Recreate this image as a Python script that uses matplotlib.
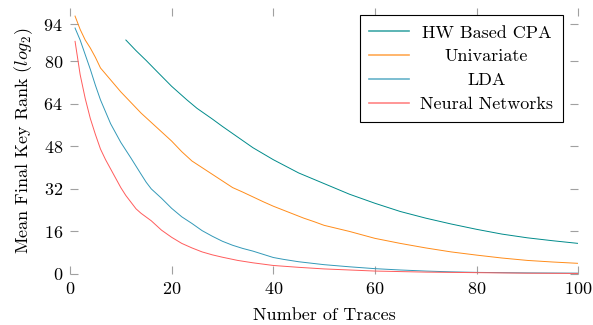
"""Mean final key rank vs number of traces."""

import matplotlib
import matplotlib.pyplot as plt

matplotlib.use("Agg")

plt.rcParams["font.family"] = ["cmr10", "DejaVu Serif"]
plt.rcParams["mathtext.fontset"] = "cm"
plt.rcParams["axes.unicode_minus"] = False
plt.rcParams["axes.formatter.use_mathtext"] = True

# Data
cpa_x = [11, 13, 15, 17, 20, 23, 25, 28, 30, 33, 36, 40, 45, 50, 55, 60, 65, 70, 75, 80, 85, 90, 95, 100]
cpa_y = [88.0, 84.0, 80.3, 76.4, 70.6, 65.5, 62.3, 58.3, 55.5, 51.5, 47.5, 43.0, 38.0, 34.0,
         30.0, 26.6, 23.5, 21.0, 18.8, 16.8, 15.0, 13.6, 12.5, 11.5]

uni_x = [1, 2, 3, 4, 5, 6, 8, 10, 12, 14, 16, 18, 20, 22, 24, 26, 28, 30, 32, 34, 36, 38, 40,
         42, 44, 46, 48, 50, 55, 60, 65, 70, 75, 80, 85, 90, 95, 100]
uni_y = [97.0, 92.0, 88.0, 85.0, 81.5, 77.5, 73.0, 68.5, 64.5, 60.5, 57.0, 53.5, 50.0, 46.0,
         42.5, 40.0, 37.5, 35.0, 32.5, 30.8, 29.0, 27.2, 25.5, 24.0, 22.5, 21.0, 19.7, 18.3,
         16.0, 13.4, 11.5, 9.8, 8.3, 7.1, 6.0, 5.1, 4.5, 4.0]

lda_x = [1, 2, 3, 4, 5, 6, 8, 10, 12, 14, 15, 16, 18, 20, 22, 24, 26, 28, 30, 32, 34, 36, 38,
         40, 42, 45, 50, 55, 60, 65, 70, 75, 80, 90, 100]
lda_y = [92.5, 88.0, 82.5, 77.0, 71.0, 65.5, 56.5, 49.5, 43.6, 37.5, 34.5, 32.0, 28.5, 24.7,
         21.5, 19.0, 16.3, 14.2, 12.3, 10.8, 9.6, 8.6, 7.4, 6.2, 5.5, 4.6, 3.5, 2.7, 2.0, 1.5,
         1.1, 0.8, 0.6, 0.4, 0.3]

nn_x = [1, 2, 3, 4, 5, 6, 7, 8, 9, 10, 11, 12, 13, 14, 16, 18, 20, 22, 24, 26, 28, 30, 33, 36,
        40, 45, 50, 55, 60, 70, 80, 90, 100]
nn_y = [87.5, 75.0, 66.0, 58.5, 52.5, 47.0, 43.0, 39.5, 36.0, 32.5, 29.5, 27.0, 24.5, 22.8,
        20.0, 16.5, 13.8, 11.5, 9.8, 8.3, 7.2, 6.3, 5.1, 4.2, 3.2, 2.5, 1.9, 1.5, 1.1, 0.7,
        0.5, 0.3, 0.2]

x_ticks = [0, 20, 40, 60, 80, 100]
y_ticks = [0, 16, 32, 48, 64, 80, 94]

fig = plt.figure(figsize=(5.93, 3.25), dpi=100)
ax = fig.add_axes([0.118, 0.157, 0.857, 0.818])

ax.plot(cpa_x, cpa_y, color="#008b8b", lw=0.7, label="HW Based CPA")
ax.plot(uni_x, uni_y, color="#ff8c1a", lw=0.7, label="Univariate")
ax.plot(lda_x, lda_y, color="#3399b8", lw=0.7, label="LDA")
ax.plot(nn_x, nn_y, color="#ff5c5c", lw=0.7, label="Neural Networks")

ax.set_xlim(0, 100)
ax.set_ylim(0, 100)
ax.set_xticks(x_ticks)
ax.set_yticks(y_ticks)
for s in ax.spines.values():
    s.set_visible(False)
ax.tick_params(direction="in", length=6, width=0.8, color="#a0a0a0",
               top=True, right=True, labelsize=13, pad=5)

ax.set_xlabel("Number of Traces", fontsize=13, labelpad=8)
ax.set_ylabel("Mean Final Key Rank ($log_2$)", fontsize=13, labelpad=6)

leg = ax.legend(loc="upper right", bbox_to_anchor=(0.97, 0.974), borderaxespad=0,
                fontsize=13, fancybox=False, framealpha=1, edgecolor="black",
                handlelength=2.2, handletextpad=0.6, labelspacing=0.45, borderpad=0.55)
leg.get_frame().set_linewidth(0.8)
for h in leg.get_lines():
    h.set_linewidth(1.2)
    h.set_alpha(0.75)

# center labels in their column, like pgfplots
fig.canvas.draw()
r = fig.canvas.get_renderer()
widths = [t.get_window_extent(r).width for t in leg.get_texts()]
for t, w in zip(leg.get_texts(), widths):
    t.set_x((max(widths) - w) / 2)

fig.savefig("out.png", dpi=100)
